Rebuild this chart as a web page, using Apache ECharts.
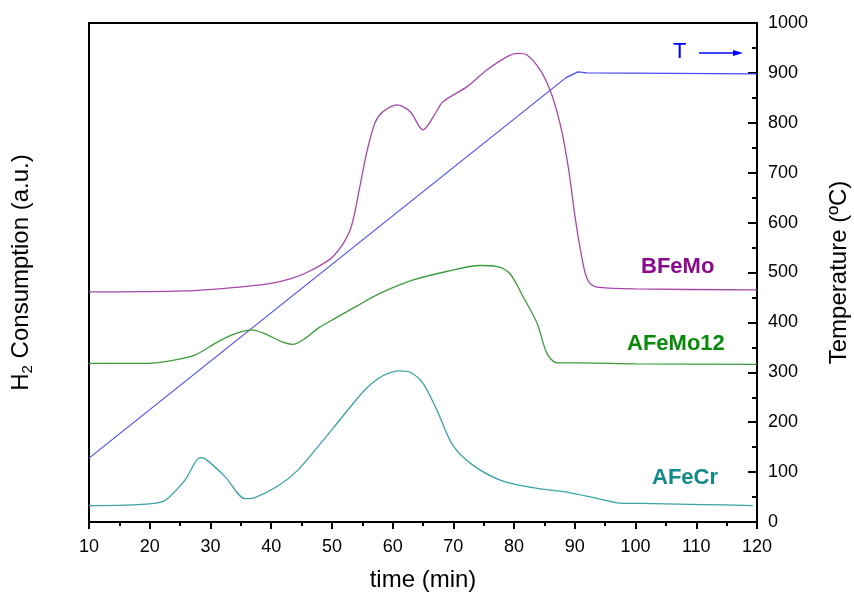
<!DOCTYPE html>
<html>
<head>
<meta charset="utf-8">
<script src="https://cdn.jsdelivr.net/npm/echarts@6/dist/echarts.min.js"></script>
<style>html,body{margin:0;padding:0;background:#fff}#c{width:854px;height:599px}</style>
</head>
<body>
<div id="c"></div>
<script>
// x ticks
const xTicks = [10,20,30,40,50,60,70,80,90,100,110,120];
const tempTicks = [0,100,200,300,400,500,600,700,800,900,1000];

// Temperature program (time min, °C)
const tempT = [10, 88.5, 90.5, 92, 120];
const tempV = [128, 890, 902, 900, 898];

// AFeCr (a.u., plotted on 0-1000 scale)
const afecrT = [10,16,20.3,22.5,25.8,28.3,29.1,32.4,35.7,37.3,41.1,44.4,47.7,50.2,53,55.7,58.4,61.2,62.9,65,67.3,69.9,73.2,77.7,82.1,85.9,88.7,94.1,97.4,102.9,111,119.3];
const afecrV = [33,34,37,43,84,129,127,91,47,49,72,104,151,188,230,268,293,303,300,278,224,154,114,84,71,64,60,46,38,37,35,33];

// AFeMo12
const afemoT = [10,19.7,24.2,27.5,31.2,34,36.8,39,41.8,43.6,45.6,47.7,50.5,54,57.9,63.4,68.9,74.4,77.2,79.3,81.5,83.8,85.4,87.1,90.8,100,120];
const afemoV = [318,318,325,335,361,377,385,377,361,356,368,388,408,432,458,485,502,514,512,498,451,398,338,319,319,317,316];

// BFeMo
const bfemoT = [10,25.8,34,39.5,43.4,46.7,50.2,53,54.6,55.7,57.1,58.4,60.7,62.9,65,66.7,68.3,72.2,75.5,78.8,80.5,82.1,84.3,85.9,87,88,89,90,91,91.8,92.6,94.1,100,120];
const bfemoV = [461,463,470,477,488,505,532,585,672,739,800,822,836,822,786,812,842,872,906,932,939,936,906,866,825,775,705,615,540,495,477,470,467,465];

const zip = (a,b) => a.map((v,i)=>[v,b[i]]);

const chart = echarts.init(document.getElementById('c'));
const font = 'Liberation Sans, Arial, sans-serif';
chart.setOption({
  animation:false,
  grid:{left:89,right:97,top:23,bottom:77,containLabel:false,outerBoundsMode:'none'},
  xAxis:[{
    type:'value',min:10,max:120,interval:10,
    name:'time (min)',nameLocation:'middle',nameGap:46,
    nameTextStyle:{fontFamily:font,fontSize:24,color:'#000'},
    axisLine:{show:true,lineStyle:{color:'#000',width:2}},
    axisTick:{show:true,inside:false,length:7,lineStyle:{color:'#000',width:2}},
    minorTick:{show:true,splitNumber:2,length:4,lineStyle:{color:'#000',width:2}},
    splitLine:{show:false},
    axisLabel:{fontFamily:font,fontSize:18,color:'#000',margin:16}
  },{
    type:'value',min:10,max:120,position:'top',
    axisLine:{show:true,onZero:false,lineStyle:{color:'#000',width:2}},
    axisTick:{show:false},axisLabel:{show:false},splitLine:{show:false}
  }],
  yAxis:[{
    type:'value',min:0,max:1000,position:'left',
    name:'{a|H}{s|2}{a| Consumption (a.u.)}',nameLocation:'middle',nameGap:54,nameRotate:90,
    nameTextStyle:{fontFamily:font,fontSize:24,color:'#000',
      rich:{a:{fontFamily:font,fontSize:24,color:'#000'},s:{fontFamily:font,fontSize:15,color:'#000',padding:[12,0,0,0]}}},
    axisLine:{show:true,onZero:false,lineStyle:{color:'#000',width:2}},
    axisTick:{show:false},axisLabel:{show:false},splitLine:{show:false}
  },{
    type:'value',min:0,max:1000,interval:100,position:'right',
    name:'Temperature (ºC)',nameLocation:'middle',nameGap:70,nameRotate:90,
    nameTextStyle:{fontFamily:font,fontSize:24,color:'#000',verticalAlign:'top'},
    axisLine:{show:true,onZero:false,lineStyle:{color:'#000',width:2}},
    axisTick:{show:true,inside:true,length:9,lineStyle:{color:'#000',width:2}},
    minorTick:{show:true,splitNumber:2,length:5,lineStyle:{color:'#000',width:2}},
    splitLine:{show:false},
    axisLabel:{fontFamily:font,fontSize:18,color:'#000',margin:11,formatter:v=>String(v)}
  }],
  series:[
    {type:'line',name:'T',yAxisIndex:1,data:zip(tempT,tempV),showSymbol:false,lineStyle:{color:'#4a4aff',width:1.2}},
    {type:'line',name:'BFeMo',yAxisIndex:0,data:zip(bfemoT,bfemoV),smooth:0.3,showSymbol:false,lineStyle:{color:'#a548a8',width:1.3}},
    {type:'line',name:'AFeMo12',yAxisIndex:0,data:zip(afemoT,afemoV),smooth:0.3,showSymbol:false,lineStyle:{color:'#3c9c3c',width:1.3}},
    {type:'line',name:'AFeCr',yAxisIndex:0,data:zip(afecrT,afecrV),smooth:0.3,showSymbol:false,lineStyle:{color:'#3aa3a3',width:1.3}}
  ],
  graphic:[
    {type:'text',left:673,top:41,style:{text:'T',font:'22px '+font,fill:'#0000ff'}},
    {type:'line',shape:{x1:699,y1:53,x2:736,y2:53},style:{stroke:'#0000ff',lineWidth:1.3}},
    {type:'polygon',shape:{points:[[743,53],[733,50],[733,56]]},style:{fill:'#0000ff'}},
    {type:'text',left:641,top:256,style:{text:'BFeMo',font:'bold 22px '+font,fill:'#8b0a8b'}},
    {type:'text',left:627,top:333,style:{text:'AFeMo12',font:'bold 22px '+font,fill:'#0a8a0a'}},
    {type:'text',left:652,top:467,style:{text:'AFeCr',font:'bold 22px '+font,fill:'#128a8a'}}
  ]
});
</script>
</body>
</html>
